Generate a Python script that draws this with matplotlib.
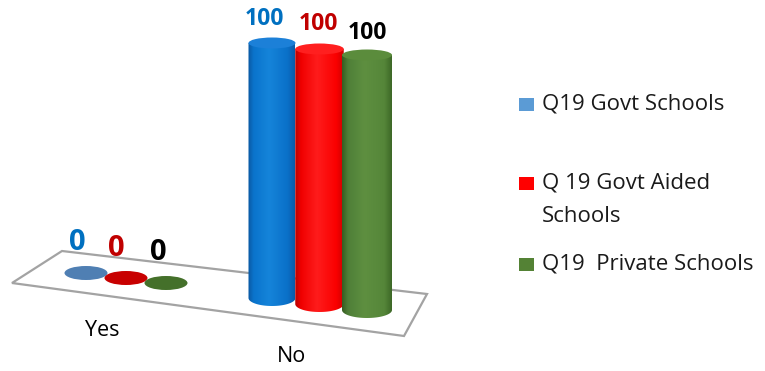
import numpy as np
import matplotlib
matplotlib.use("Agg")
import matplotlib.pyplot as plt
from matplotlib.patches import Ellipse, Polygon, Rectangle, PathPatch
from matplotlib.path import Path
from matplotlib.colors import LinearSegmentedColormap

plt.rcParams["font.family"] = ["Open Sans", "DejaVu Sans"]

# ---- data ----
categories = ["Yes", "No"]
series_names = ["Q19 Govt Schools", "Q 19 Govt Aided\nSchools", "Q19  Private Schools"]
govt_schools = [0, 100]
govt_aided_schools = [0, 100]
private_schools = [0, 100]
series_values = [govt_schools, govt_aided_schools, private_schools]

# ---- styling ----
W, H = 765, 371
label_colors = ["#0070c0", "#c00000", "#000000"]
legend_colors = ["#5b9bd5", "#ff0000", "#548235"]
disc_colors = ["#4f7fb3", "#c80000", "#44702a"]
top_colors = ["#1c80d8", "#ff1f1f", "#5b8c3c"]
stop_pos = [0.0, 0.12, 0.45, 0.85, 1.0]
body_stops = [
    ["#0b58a2", "#0a74cc", "#1584da", "#0a70c8", "#0a5aa8"],
    ["#b80000", "#f00000", "#ff1c1c", "#fa0000", "#cc0000"],
    ["#365c21", "#4f7f38", "#5e8f40", "#558639", "#3d6827"],
]

# perspective layout of the category slots (pixel space)
cat_x = [86, 272]          # centre of first series in each slot
cat_base = [273, 298]      # base ellipse centre row of first series
series_dx = [40, 47.5]
series_dy = [5, 6]
slot_width = [43, 47]
disc_h = 14
top_eh = 11
bottom_eh = 16
# label offsets (pixels) relative to the cylinder top, per series
zero_label_dx = [-9, -10, -8]
zero_label_dy = [30, 29, 31]
full_label_dx = [-8, -1, 0]
full_label_dy = [24, 25, 22]

# vertical value scale: pixels per value unit, base row of reference
S = 2.55
BASE = 298.0


def py(p):
    """pixel row -> data y (value units)"""
    return (BASE - p) / S


fig = plt.figure(figsize=(W / 100, H / 100), dpi=100)
ax = fig.add_axes([0, 0, 1, 1])
ax.set_xlim(0, W)
ax.set_ylim(py(H), py(0))
ax.axis("off")

# floor of the plot area
floor_px = [(12, 283), (62, 251), (427, 294), (404, 336)]
floor = Polygon([(x, py(y)) for x, y in floor_px], closed=True,
                facecolor="white", edgecolor="#a3a3a3", lw=1.6, zorder=1)
ax.add_patch(floor)


def draw_cylinder(cx, base_row, w, value, j, z):
    y0 = py(base_row)
    if value <= 0:
        ax.add_patch(Ellipse((cx, y0), w, disc_h / S, facecolor=disc_colors[j],
                             edgecolor="none", zorder=z))
        return y0
    y1 = y0 + value
    beh = bottom_eh / S
    t = np.linspace(np.pi, 2 * np.pi, 60)
    xs = cx + (w / 2) * np.cos(t)
    ys = y0 + (beh / 2) * np.sin(t)
    verts = list(zip(xs, ys)) + [(cx + w / 2, y1), (cx - w / 2, y1), (xs[0], ys[0])]
    codes = [Path.MOVETO] + [Path.LINETO] * (len(verts) - 2) + [Path.CLOSEPOLY]
    body = PathPatch(Path(verts, codes), facecolor="none", edgecolor="none", zorder=z)
    ax.add_patch(body)
    cmap = LinearSegmentedColormap.from_list(f"cyl{j}", list(zip(stop_pos, body_stops[j])))
    grad = np.linspace(0, 1, 200).reshape(1, -1)
    im = ax.imshow(grad, cmap=cmap, aspect="auto", interpolation="bicubic",
                   extent=[cx - w / 2, cx + w / 2, y0 - beh / 2, y1], zorder=z)
    im.set_clip_path(body)
    # top cap
    teh = top_eh / S
    ax.add_patch(Ellipse((cx, y1), w, teh, facecolor=top_colors[j],
                         edgecolor="none", zorder=z + 0.1))
    return y1


# cylinders and data labels
for i, cat in enumerate(categories):
    for j, vals in enumerate(series_values):
        v = vals[i]
        cx = cat_x[i] + j * series_dx[i]
        base_row = cat_base[i] + j * series_dy[i]
        w = slot_width[i] + (j * 1.5 if i == 1 else 0)
        z = 3 + j
        ytop = draw_cylinder(cx, base_row, w, v, j, z)
        if v <= 0:
            ax.text(cx + zero_label_dx[j], ytop + zero_label_dy[j] / S, f"{v:g}",
                    color=label_colors[j], fontsize=21, fontweight="bold",
                    ha="center", va="center", zorder=10)
        else:
            ax.text(cx + full_label_dx[j], ytop + full_label_dy[j] / S, f"{v:g}",
                    color=label_colors[j], fontsize=16.5, fontweight="bold",
                    ha="center", va="center", zorder=10)

# category labels
ax.text(102, py(331), categories[0], fontsize=15.5, ha="center", va="center", color="#000000")
ax.text(292, py(357), categories[1], fontsize=15.5, ha="center", va="center", color="#000000")

# legend
legend_rows = [104, 183, 264]
for j, name in enumerate(series_names):
    r = legend_rows[j]
    ax.add_patch(Rectangle((519, py(r + 6.5)), 15, 13 / S, facecolor=legend_colors[j],
                           edgecolor="none", zorder=5))
    for k, line in enumerate(name.split("\n")):
        ax.text(542, py(r + k * 34), line, fontsize=16, ha="left", va="center",
                color="#1a1a1a")

fig.savefig("out.png", dpi=100)
